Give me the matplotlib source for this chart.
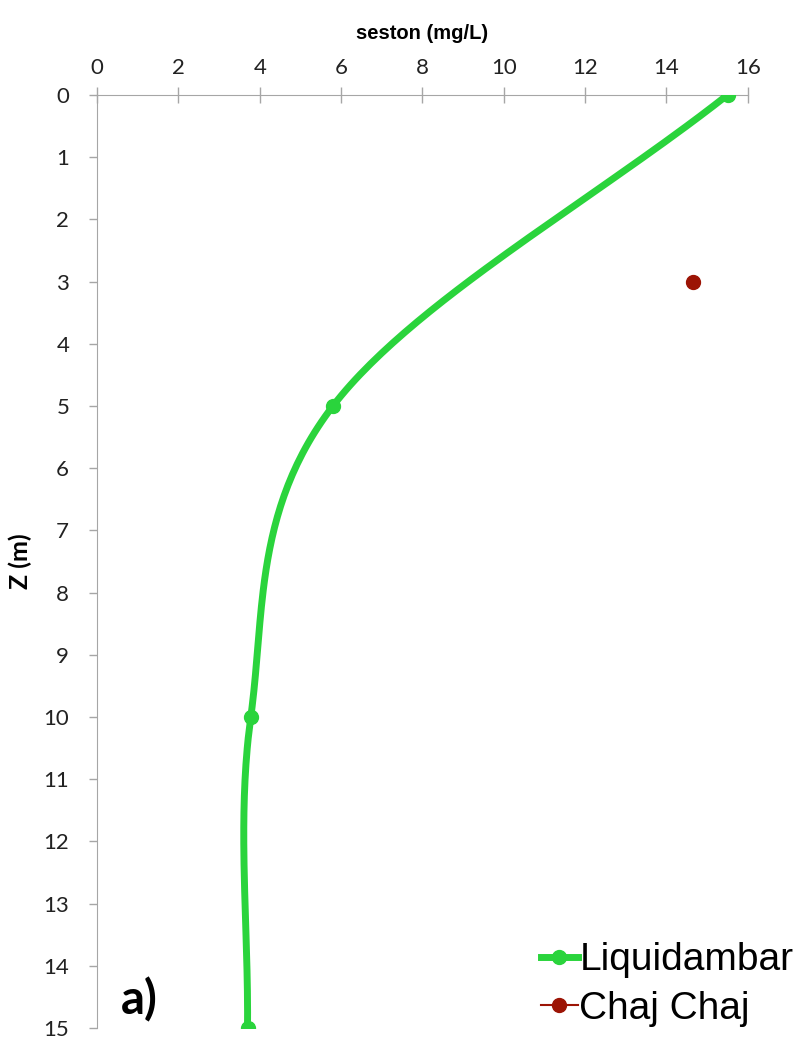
import numpy as np
import matplotlib.pyplot as plt

# seston profile (mg/L) vs depth Z (m)
liq_depth = np.array([0, 5, 10, 15])
liq_seston = np.array([15.5, 5.8, 3.78, 3.7])
chaj_depth = np.array([3])
chaj_seston = np.array([14.65])

x_ticks = list(range(0, 17, 2))
y_ticks = list(range(0, 16))

GREEN = '#2ad43c'
RED = '#9c1405'
GREY = '#a6a6a6'


def smooth_line(xs, ys, sx, sy, n=60):
    # excel-style smoothed line: catmull-rom through the points, in screen-ish units
    px = np.asarray(xs, float) * sx
    py = np.asarray(ys, float) * sy
    px = np.concatenate(([2 * px[0] - px[1]], px, [2 * px[-1] - px[-2]]))
    py = np.concatenate(([2 * py[0] - py[1]], py, [2 * py[-1] - py[-2]]))
    outx, outy = [], []
    t = np.linspace(0, 1, n)
    for i in range(1, len(px) - 2):
        p0, p1, p2, p3 = px[i - 1:i + 3]
        q0, q1, q2, q3 = py[i - 1:i + 3]
        bx = 0.5 * (2 * p1 + (-p0 + p2) * t + (2 * p0 - 5 * p1 + 4 * p2 - p3) * t**2 + (-p0 + 3 * p1 - 3 * p2 + p3) * t**3)
        by = 0.5 * (2 * q1 + (-q0 + q2) * t + (2 * q0 - 5 * q1 + 4 * q2 - q3) * t**2 + (-q0 + 3 * q1 - 3 * q2 + q3) * t**3)
        outx.append(bx)
        outy.append(by)
    return np.concatenate(outx) / sx, np.concatenate(outy) / sy


fig = plt.figure(figsize=(8.05, 10.4), dpi=100)
ax = fig.add_axes([0.1205, 0.0115, 0.8085, 0.8972])

sx, sy = 651 / 16.0, 933 / 15.0
cx, cy = smooth_line(liq_seston, liq_depth, sx, sy)
ax.plot(cx, cy, color=GREEN, lw=5, solid_capstyle='round', zorder=3)
ax.plot(liq_seston, liq_depth, 'o', color=GREEN, ms=10, zorder=4)
h1, = ax.plot([], [], '-o', color=GREEN, lw=5, ms=10, label='Liquidambar')
h2, = ax.plot(chaj_seston, chaj_depth, '-o', color=RED, lw=1.5, ms=10, label='Chaj Chaj', zorder=4)

ax.set_xlim(0, 16)
ax.set_ylim(15, 0)
ax.xaxis.tick_top()
ax.xaxis.set_label_position('top')
ax.set_xticks(x_ticks)
ax.set_yticks(y_ticks)
ax.tick_params(axis='x', direction='inout', length=12, width=1, color=GREY, labelsize=16, pad=6, labelcolor='#222222')
ax.tick_params(axis='y', direction='out', length=6, width=1, color=GREY, labelsize=16, pad=14, labelcolor='#222222')
for s in ['right', 'bottom']:
    ax.spines[s].set_visible(False)
for s in ['top', 'left']:
    ax.spines[s].set_color(GREY)
for lab in ax.get_xticklabels() + ax.get_yticklabels():
    lab.set_family('Lato')

ax.set_xlabel('seston (mg/L)', fontsize=14.5, fontweight='bold', family='Liberation Sans', labelpad=14)
ax.set_ylabel('Z (m)', fontsize=18, fontweight='bold', family='Lato', labelpad=8)

ax.text(1.05, 14.55, 'a)', fontsize=34, fontweight='bold', family='Lato', ha='center', va='center')

fig.legend(handles=[h1, h2], loc='lower right', bbox_to_anchor=(1.01, -0.006), frameon=False,
           prop={'family': 'Liberation Sans', 'size': 28}, handlelength=0.95, handletextpad=0.05,
           labelspacing=0.32, borderaxespad=0.1)

fig.savefig('out.png', dpi=100)
